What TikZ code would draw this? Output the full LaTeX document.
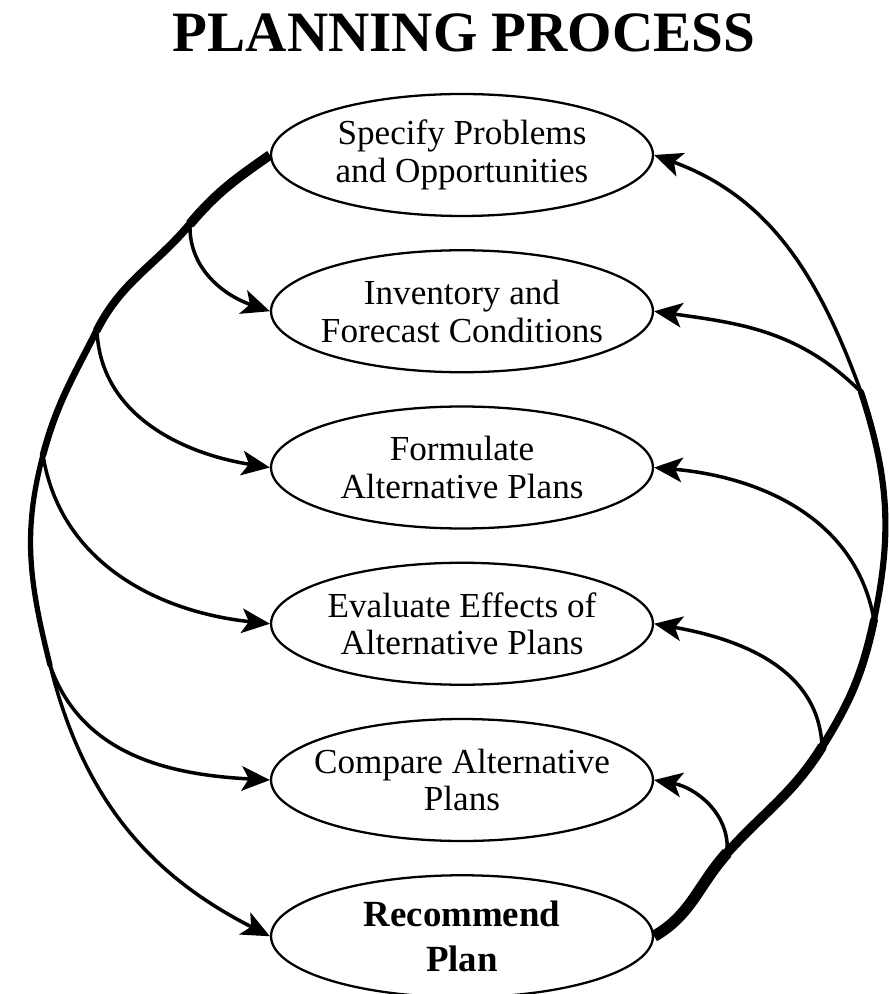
\documentclass[tikz,border=0pt]{standalone}
\usepackage{fontspec}
\setmainfont{Liberation Serif}
\usepackage{tikz}
\usetikzlibrary{arrows.meta,positioning,shapes.geometric}
\newcommand{\stagefont}{\fontsize{20}{21.5}\selectfont}

\begin{document}
\begin{tikzpicture}[x=0.02cm,y=0.02cm,
  stage/.style={ellipse, draw, line width=1.3pt, minimum width=7.64cm, minimum height=2.44cm,
    inner xsep=-12pt, inner ysep=0pt, align=center, font=\stagefont},
  flow/.style={line width=2pt, -{Stealth[length=16pt,width=14pt,inset=4pt]}},
  trunk/.style={line width=#1, line cap=round}]
\useasboundingbox (0,0) rectangle (889,994);

\node[anchor=base, font=\fontsize{32.5}{36}\selectfont\bfseries] (title) at (464,942) {PLANNING PROCESS};

\node[stage] (spec) at (462,839) {Specify Problems\\and Opportunities};
\node[stage, below=0.64cm of spec] (inv) {Inventory and\\Forecast Conditions};
\node[stage, below=0.64cm of inv] (form) {Formulate\\Alternative Plans};
\node[stage, below=0.64cm of form] (eval) {Evaluate Effects of\\Alternative Plans};
\node[stage, below=0.64cm of eval] (comp) {Compare Alternative\\Plans};
\node[stage, below=0.64cm of comp, font=\fontsize{21}{26}\selectfont\bfseries] (rec) {Recommend\\Plan};

% left side: branches off the big arc
\coordinate (l1) at (190,770);
\coordinate (l2) at (97,664);
\coordinate (l3) at (43,539);
\coordinate (l4) at (50,329);

\draw[trunk=5.5pt, line cap=butt] (spec.west) to[out=215,in=50] (l1);
\draw[trunk=4.5pt] (l1) to[out=230,in=63] (l2);
\draw[trunk=3.8pt] (l2) to[out=243,in=75] (l3);
\draw[trunk=3pt] (l3) to[out=255,in=104] (l4);
\draw[flow] (l4) to[out=284,in=153] (rec.west);

\draw[flow] (l1) to[out=268,in=161] (inv.west);
\draw[flow] (l2) to[out=272,in=171] (form.west);
\draw[flow] (l3) to[out=279,in=174] (eval.west);
\draw[flow] (l4) to[out=289,in=177] (comp.west);

% right side: back up to the top
\coordinate (r4) at (727,141);
\coordinate (r3) at (822,247);
\coordinate (r2) at (874,374);
\coordinate (r1) at (861,602);

\draw[trunk=6.5pt, line cap=butt] (rec.east) to[out=30,in=228] (r4);
\draw[trunk=5.5pt] (r4) to[out=48,in=238] (r3);
\draw[trunk=4.5pt] (r3) to[out=58,in=258] (r2);
\draw[trunk=3.5pt] (r2) to[out=78,in=288] (r1);
\draw[flow] (r1) to[out=110,in=340] (spec.east);

\draw[flow] (r1) to[out=135,in=352] (inv.east);
\draw[flow] (r2) to[out=100,in=355] (form.east);
\draw[flow] (r3) to[out=92,in=350] (eval.east);
\draw[flow] (r4) to[out=85,in=350] (comp.east);
\end{tikzpicture}
\end{document}
